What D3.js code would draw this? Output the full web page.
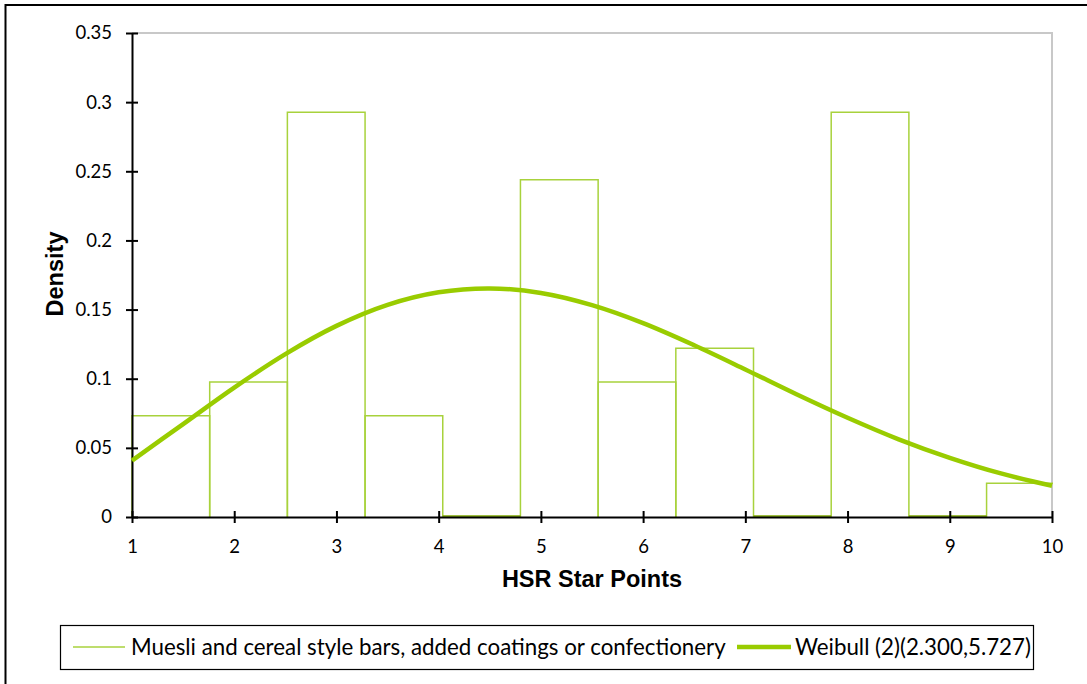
<!DOCTYPE html>
<html><head><meta charset="utf-8">
<script src="https://cdn.jsdelivr.net/npm/d3@7"></script>
<style>body{margin:0;background:#fff}svg{display:block}</style>
</head><body><svg id="c" width="1087" height="684"></svg>
<script>
// Histogram bins (left edge, right edge, density)
const binStarts = [1.00, 1.76, 2.52, 3.28, 4.04, 4.80, 5.56, 6.32, 7.08, 7.84, 8.60, 9.36];
const binEnds   = [1.76, 2.52, 3.28, 4.04, 4.80, 5.56, 6.32, 7.08, 7.84, 8.60, 9.36, 10.12];
const densities = [0.0732, 0.0976, 0.2927, 0.0732, 0, 0.2439, 0.0976, 0.1220, 0, 0.2927, 0, 0.0244];
// Fitted curve
const curveX = [1, 1.5, 2, 2.5, 3, 3.5, 4, 4.5, 5, 5.5, 6, 6.5, 7, 7.5, 8, 8.5, 9, 9.5, 10];
const curveY = [0.0408, 0.0672, 0.0936, 0.1178, 0.1382, 0.1534, 0.1625, 0.1653, 0.1620, 0.1532, 0.1402, 0.1242, 0.1067, 0.0888, 0.0718, 0.0562, 0.0428, 0.0315, 0.0226];
const xTicks = [1,2,3,4,5,6,7,8,9,10];
const yTicks = [0,0.05,0.1,0.15,0.2,0.25,0.3,0.35];
const seriesNames = ["Muesli and cereal style bars, added coatings or confectionery", "Weibull (2)(2.300,5.727)"];

const svg = d3.select("#c");
const L = 132, R = 1052, T = 33, B = 517;
const x = d3.scaleLinear().domain([1,10]).range([L,R]);
const y = d3.scaleLinear().domain([0,0.35]).range([B,T]);
const barColor = "#a8d23c", curveColor = "#99cc00";
const tickFont = "Lato, 'Open Sans', sans-serif";
const titleFont = "'Liberation Sans', Arial, sans-serif";

// outer border
svg.append("rect").attr("x",5.5).attr("y",5).attr("width",1100).attr("height",700)
  .attr("fill","none").attr("stroke","#000").attr("stroke-width",2);

// plot area frame (gray top/right)
svg.append("path").attr("d",`M${L},${T}H${R}V${B}`).attr("fill","none").attr("stroke","#c8c8c8").attr("stroke-width",2);

svg.append("clipPath").attr("id","pc").append("rect")
  .attr("x",L-1).attr("y",T-2).attr("width",R-L+2).attr("height",B-T+4);

const g = svg.append("g").attr("clip-path","url(#pc)");
const bins = binStarts.map((s,i)=>({x0:s,x1:binEnds[i],d:densities[i]}));
g.selectAll("path.bar").data(bins).join("path").attr("class","bar")
  .attr("d",b=>`M${x(b.x0)},${y(0)}V${y(b.d)}H${x(b.x1)}V${y(0)}`)
  .attr("fill","none").attr("stroke",barColor).attr("stroke-width",1.5);
// zero-height bins drawn as a line along the base
g.selectAll("line.zb").data(bins.filter(b=>b.d===0)).join("line").attr("class","zb")
  .attr("x1",b=>x(b.x0)).attr("x2",b=>x(b.x1)).attr("y1",y(0)-1).attr("y2",y(0)-1)
  .attr("stroke","#7fa800").attr("stroke-width",1.5);

// axes
const xAxis = svg.append("g").attr("transform",`translate(0,${B})`)
  .call(d3.axisBottom(x).tickValues(xTicks).tickFormat(d3.format("d")).tickSize(6).tickSizeOuter(0));
xAxis.select(".domain").attr("stroke","#000").attr("stroke-width",2);
xAxis.selectAll(".tick line").attr("y1",-6).attr("y2",6).attr("stroke","#000").attr("stroke-width",2);
xAxis.selectAll(".tick text").attr("y",31).attr("dy",null).attr("dominant-baseline","middle")
  .attr("font-family",tickFont).attr("font-size",18.5).attr("fill","#000");

const yAxis = svg.append("g").attr("transform",`translate(${L},0)`)
  .call(d3.axisLeft(y).tickValues(yTicks).tickFormat(d=>String(+d.toFixed(2))).tickSize(6).tickSizeOuter(0));
yAxis.select(".domain").attr("stroke","#000").attr("stroke-width",2);
yAxis.selectAll(".tick line").attr("x1",-6).attr("x2",6).attr("stroke","#000").attr("stroke-width",2);
yAxis.selectAll(".tick text").attr("x",-20).attr("font-family",tickFont).attr("font-size",18.5).attr("fill","#000");

// curve
const pts = curveX.map((v,i)=>[v,curveY[i]]);
svg.append("path").datum(pts)
  .attr("d",d3.line().x(d=>x(d[0])).y(d=>y(d[1])).curve(d3.curveCatmullRom))
  .attr("fill","none").attr("stroke",curveColor).attr("stroke-width",4.5);

// axis titles
svg.append("text").attr("x",592).attr("y",587).attr("text-anchor","middle")
  .attr("font-family",titleFont).attr("font-weight","bold").attr("font-size",23.5)
  .text("HSR Star Points");
svg.append("text").attr("transform","translate(63,274) rotate(-90)").attr("text-anchor","middle")
  .attr("font-family",titleFont).attr("font-weight","bold").attr("font-size",23.5)
  .text("Density");

// legend
svg.append("rect").attr("x",60.5).attr("y",625.5).attr("width",973).attr("height",44)
  .attr("fill","#fff").attr("stroke","#000").attr("stroke-width",1.2);
const lg = svg.append("g");
lg.append("line").attr("x1",73).attr("x2",125).attr("y1",647).attr("y2",647).attr("stroke",barColor).attr("stroke-width",1.5);
lg.append("text").attr("x",131).attr("y",655).attr("font-family",tickFont).attr("font-size",22.3).text(seriesNames[0]);
lg.append("line").attr("x1",737).attr("x2",791).attr("y1",647).attr("y2",647).attr("stroke",curveColor).attr("stroke-width",4.5);
lg.append("text").attr("x",795).attr("y",655).attr("font-family",tickFont).attr("font-size",22.3).text(seriesNames[1]);
</script></body></html>
